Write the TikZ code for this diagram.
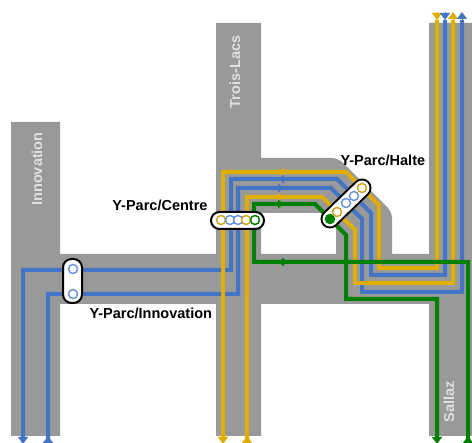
\documentclass[tikz,border=0pt]{standalone}
\usepackage{fontspec}
\setmainfont{Liberation Sans}
\usetikzlibrary{arrows.meta}
\definecolor{blockgray}{HTML}{999999}
\definecolor{linegold}{HTML}{E0AE00}
\definecolor{lineblue}{HTML}{4475C5}
\definecolor{linegreen}{HTML}{008000}
\definecolor{ringblue}{HTML}{6F94DE}
\definecolor{ringgold}{HTML}{D0A520}
\tikzset{
  route/.style={line width=4pt,miter limit=4},
  head/.style={-{Triangle[width=10pt,length=7pt]},line width=1pt},
  midhead/.style={-{Triangle[width=8.5pt,length=6pt]},line width=1pt},
  pill/.style={draw=black,line width=2pt,fill=white,rounded corners=8.5pt},
  ring/.style={circle,draw,fill=white,line width=1.5pt,minimum size=9pt,inner sep=0pt},
  stoplabel/.style={font=\bfseries\fontsize{14.5}{16}\selectfont,black},
  blocklabel/.style={font=\bfseries\fontsize{14.5}{16}\selectfont,white!88!black,rotate=90}
}
\begin{document}
\begin{tikzpicture}[x=1pt,y=-1pt]
  \useasboundingbox (0,0) rectangle (472,443);
  % grey blocks
  \fill[blockgray,even odd rule] (11,122) -- (60,122) -- (60,254) -- (216,254) -- (216,23) -- (261,23) -- (261,158)
    [rounded corners=6pt] -- (338,158) -- (392,212) [sharp corners] -- (392,254) -- (429,254) -- (429,23) -- (472,23)
    -- (472,436) -- (429,436) -- (429,304) -- (261,304) -- (261,436) -- (216,436) -- (216,304) -- (60,304) -- (60,436) -- (11,436) -- cycle
    (261,213) rectangle (336,254);
  \node[blocklabel] (innovation) at (37,169) {Innovation};
  \node[blocklabel] (troislacs) at (235,72) {Trois-Lacs};
  \node[blocklabel] (sallaz) at (449,402) {Sallaz};
  % routes
  \draw[route,lineblue] (23,437) -- (23,270) -- (231,270) -- (231,179) -- (337,179) -- (371,213) -- (371,275) -- (445,275) -- (445,20);
  \draw[route,lineblue] (48,443) -- (48,294) -- (238,294) -- (238,188) -- (331,188) -- (362,219) -- (362,292) -- (462,292) -- (462,20);
  \draw[route,linegold] (223,437) -- (223,172) -- (346,172) -- (379,205) -- (379,268) -- (437,268) -- (437,20);
  \draw[route,linegold] (247,443) -- (247,197) -- (322,197) -- (355,230) -- (355,283) -- (453,283) -- (453,20);
  \draw[route,linegreen] (437,437) -- (437,299) -- (346,299) -- (346,235) -- (315,204) -- (254,204) -- (254,262) -- (468,262) -- (468,443);
  % arrow heads
  \foreach \x/\col in {437/linegold,445/lineblue} \draw[head,\col] (\x,12) -- (\x,20);
  \foreach \x/\col in {453/linegold,462/lineblue} \draw[head,\col] (\x,21) -- (\x,12);
  \foreach \x/\col in {23/lineblue,223/linegold,437/linegreen} \draw[head,\col] (\x,437) -- (\x,444);
  \foreach \x/\col in {48/lineblue,247/linegold,468/linegreen} \draw[head,\col] (\x,444) -- (\x,436);
  \foreach \y/\col in {172/linegold,179/lineblue,262/linegreen} \draw[midhead,\col] (284,\y) -- (278,\y);
  \foreach \y/\col in {188/lineblue,197/linegold,204/linegreen} \draw[midhead,\col] (278,\y) -- (284,\y);
  % stations
  \draw[pill] (63,259) rectangle (82,303);
  \node[ring,draw=ringblue] (innovA) at (73,269) {};
  \node[ring,draw=ringblue] (innovB) at (73,294) {};
  \draw[pill] (211,212) rectangle (264,229);
  \node[ring,draw=ringgold] (centreA) at (221,220) {};
  \node[ring,draw=ringblue] (centreB) at (230,220) {};
  \node[ring,draw=ringblue] (centreC) at (238,220) {};
  \node[ring,draw=ringgold] (centreD) at (246,220) {};
  \node[ring,draw=linegreen] (centreE) at (255,220) {};
  \draw[line width=19pt,line cap=round] (330,219) -- (362,188);
  \draw[line width=15pt,line cap=round,white] (330,219) -- (362,188);
  \node[ring,draw=linegreen,fill=linegreen] (halteA) at (330,219) {};
  \node[ring,draw=ringgold] (halteB) at (337,212) {};
  \node[ring,draw=ringblue] (halteC) at (346,203) {};
  \node[ring,draw=ringblue] (halteD) at (354,196) {};
  \node[ring,draw=ringgold] (halteE) at (362,188) {};
  % station names
  \node[stoplabel,anchor=east] (labcentre) at (211,205) {Y-Parc/Centre};
  \node[stoplabel,anchor=west] (labhalte) at (337,160) {Y-Parc/Halte};
  \node[stoplabel,anchor=west] (labinnov) at (86,313) {Y-Parc/Innovation};
\end{tikzpicture}
\end{document}
